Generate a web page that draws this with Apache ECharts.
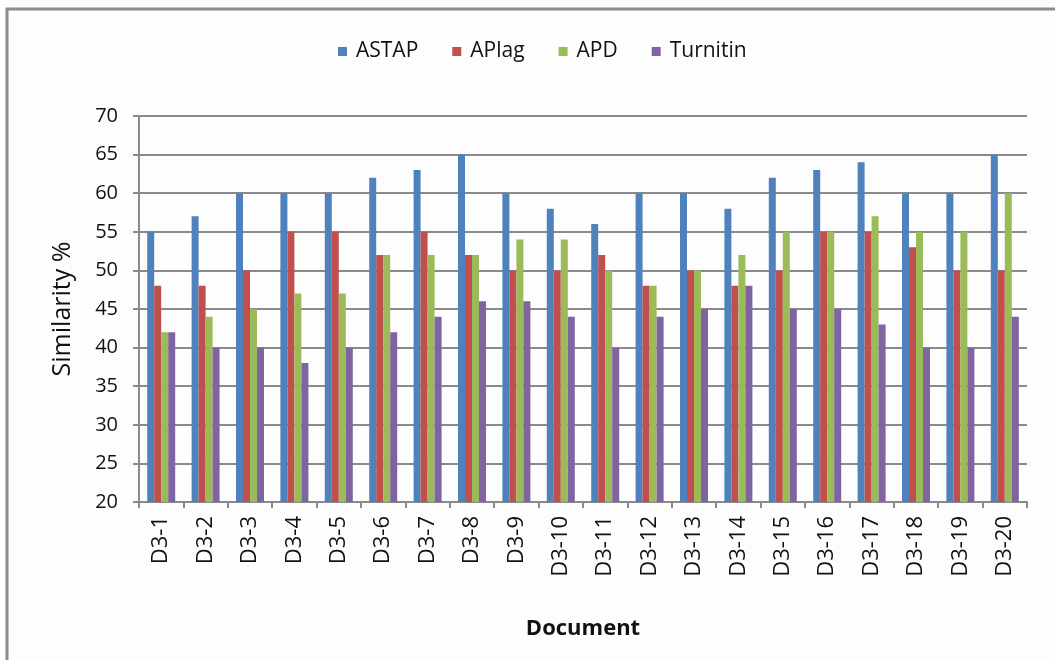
<!DOCTYPE html>
<html>
<head>
<meta charset="utf-8">
<script src="https://cdn.jsdelivr.net/npm/echarts@6/dist/echarts.min.js"></script>
<style>
  html, body { margin: 0; padding: 0; background: #fff; }
  #chart { width: 1055px; height: 660px; }
</style>
</head>
<body>
<div id="chart"></div>
<script>
// Documents compared
const categories = ['D3-1','D3-2','D3-3','D3-4','D3-5','D3-6','D3-7','D3-8','D3-9','D3-10',
                    'D3-11','D3-12','D3-13','D3-14','D3-15','D3-16','D3-17','D3-18','D3-19','D3-20'];

// Similarity % reported by each tool
const astap    = [55, 57, 60, 60, 60, 62, 63, 65, 60, 58, 56, 60, 60, 58, 62, 63, 64, 60, 60, 65];
const aplag    = [48, 48, 50, 55, 55, 52, 55, 52, 50, 50, 52, 48, 50, 48, 50, 55, 55, 53, 50, 50];
const apd      = [42, 44, 45, 47, 47, 52, 52, 52, 54, 54, 50, 48, 50, 52, 55, 55, 57, 55, 55, 60];
const turnitin = [42, 40, 40, 38, 40, 42, 44, 46, 46, 44, 40, 44, 45, 48, 45, 45, 43, 40, 40, 44];

const seriesNames = ['ASTAP', 'APlag', 'APD', 'Turnitin'];
const seriesColors = ['#4F81BD', '#C0504D', '#9BBB59', '#8064A2'];
const seriesData = [astap, aplag, apd, turnitin];

const font = '"Open Sans", Lato, sans-serif';
const gridColor = '#8a8a8a';

const chart = echarts.init(document.getElementById('chart'), null, { renderer: 'canvas' });

chart.setOption({
  backgroundColor: '#fdfdfd',
  animation: false,
  textStyle: { fontFamily: font, color: '#111' },
  graphic: [
    // chart-area frame (top and left edges)
    { type: 'polyline', shape: { points: [[7, 660], [7, 9], [1055, 9]] },
      style: { stroke: '#8c8c8c', lineWidth: 3, fill: null }, silent: true }
  ],
  legend: {
    data: seriesNames,
    top: 36,
    left: 333,
    itemWidth: 9,
    itemHeight: 9,
    itemGap: 34,
    icon: 'rect',
    textStyle: { fontFamily: font, fontSize: 21, color: '#111', padding: [0, 0, 0, 4] }
  },
  grid: { left: 139, right: 28, top: 116, bottom: 158, containLabel: false },
  xAxis: {
    type: 'category',
    data: categories,
    name: 'Document',
    nameLocation: 'middle',
    nameGap: 116,
    nameTextStyle: { fontFamily: font, fontSize: 22, fontWeight: 'bold', color: '#111' },
    axisLine: { lineStyle: { color: gridColor, width: 2 } },
    axisTick: { show: true, alignWithLabel: false, length: 6, lineStyle: { color: gridColor, width: 2 } },
    axisLabel: { rotate: 90, fontFamily: font, fontSize: 22, color: '#111', margin: 14, interval: 0 }
  },
  yAxis: {
    type: 'value',
    min: 20,
    max: 70,
    interval: 5,
    name: 'Similarity %',
    nameLocation: 'middle',
    nameGap: 64,
    nameRotate: 90,
    nameTextStyle: { fontFamily: font, fontSize: 25, color: '#111' },
    axisLine: { show: true, lineStyle: { color: gridColor, width: 2 } },
    axisTick: { show: true, length: 6, lineStyle: { color: gridColor, width: 2 } },
    axisLabel: { fontFamily: font, fontSize: 20, color: '#111', margin: 21 },
    splitLine: { show: true, lineStyle: { color: gridColor, width: 2 } }
  },
  series: seriesNames.map((name, i) => ({
    name: name,
    type: 'bar',
    data: seriesData[i],
    barWidth: 7,
    barGap: '0%',
    itemStyle: { color: seriesColors[i] }
  }))
});
</script>
</body>
</html>
